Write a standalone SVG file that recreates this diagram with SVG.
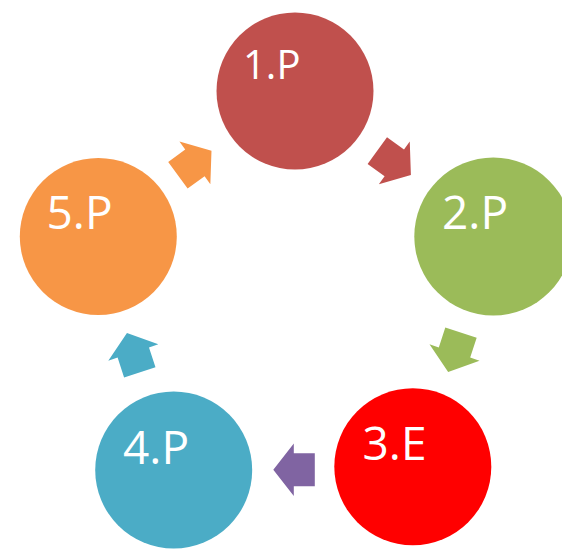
<svg xmlns="http://www.w3.org/2000/svg" width="562" height="549" viewBox="0 0 562 549">
  <defs>
    <!-- block arrow pointing along +x, centred on the origin -->
    <path id="cycle-arrow" d="M-21,-16.5 L0,-16.5 L0,-26.3 L20.5,0 L0,26.3 L0,16.5 L-21,16.5 Z"/>
  </defs>
  <style>
    .label { font-family: "Open Sans", "Liberation Sans", sans-serif; fill: #ffffff; font-size: 46px; }
  </style>
  <rect width="562" height="549" fill="#ffffff"/>

  <!-- arrows between the stages -->
  <g id="connectors">
    <use href="#cycle-arrow" fill="#C0504D" transform="translate(394.3,162.9) rotate(36)"/>
    <use href="#cycle-arrow" fill="#9BBB59" transform="translate(454.5,352.5) rotate(108)"/>
    <use href="#cycle-arrow" fill="#8064A2" transform="translate(293.8,469.7) rotate(180)"/>
    <use href="#cycle-arrow" fill="#4BACC6" transform="translate(133.3,352.5) rotate(252)"/>
    <use href="#cycle-arrow" fill="#F79646" transform="translate(194.9,162.9) rotate(324)"/>
  </g>

  <g id="stage1">
    <circle cx="295" cy="91" r="78.5" fill="#C0504D"/>
    <text class="label" x="243" y="79" style="font-size:40px">1.P</text>
  </g>
  <g id="stage2">
    <circle cx="493.3" cy="236.5" r="79" fill="#9BBB59"/>
    <text class="label" x="442" y="229.3">2.P</text>
  </g>
  <g id="stage3">
    <circle cx="412.8" cy="466.7" r="78.5" fill="#FF0000"/>
    <text class="label" x="362.5" y="460">3.E</text>
  </g>
  <g id="stage4">
    <circle cx="173.7" cy="470" r="78.5" fill="#4BACC6"/>
    <text class="label" x="123" y="464.3">4.P</text>
  </g>
  <g id="stage5">
    <circle cx="98.3" cy="236.5" r="78.5" fill="#F79646"/>
    <text class="label" x="46.5" y="229.3">5.P</text>
  </g>
</svg>
